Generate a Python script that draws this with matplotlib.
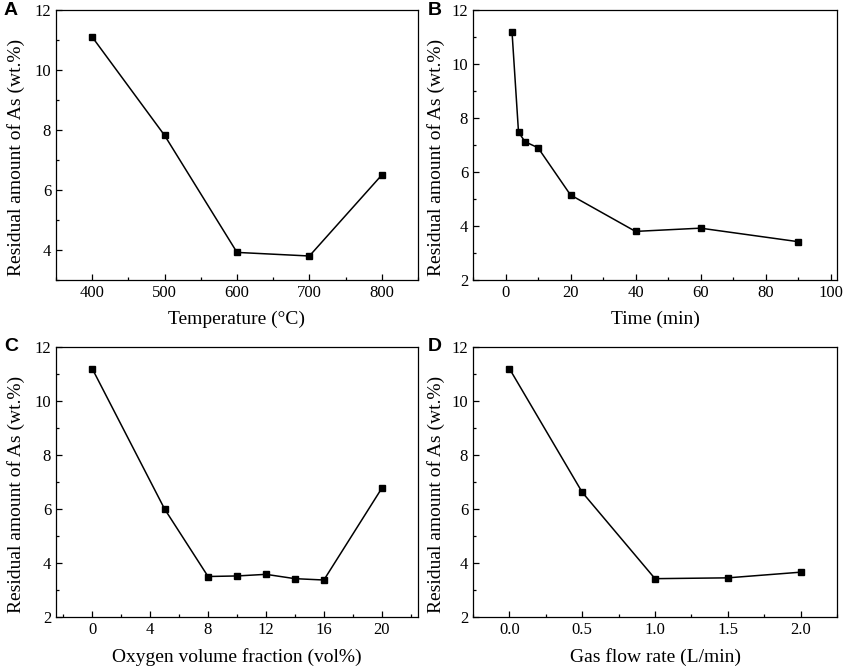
import matplotlib
matplotlib.use("Agg")
from matplotlib import pyplot as plt
from matplotlib.ticker import MultipleLocator

plt.rcParams['font.family'] = ['Liberation Serif', 'DejaVu Serif']

# panel A - temperature
temp = [400, 500, 600, 700, 800]
as_temp = [11.1, 7.82, 3.92, 3.8, 6.5]

# panel B - time
time_min = [2, 4, 6, 10, 20, 40, 60, 90]
as_time = [11.2, 7.48, 7.12, 6.9, 5.15, 3.8, 3.92, 3.42]

# panel C - oxygen volume fraction
oxygen = [0, 5, 8, 10, 12, 14, 16, 20]
as_oxygen = [11.2, 6.0, 3.5, 3.52, 3.58, 3.42, 3.37, 6.77]

# panel D - gas flow rate
flow = [0.0, 0.5, 1.0, 1.5, 2.0]
as_flow = [11.2, 6.62, 3.42, 3.45, 3.66]

ylab = 'Residual amount of As (wt.%)'

fig = plt.figure(figsize=(8.51, 6.72), dpi=100)
W, H = 851.0, 672.0

def make_ax(l, t, r, b):
    return fig.add_axes([l / W, 1 - b / H, (r - l) / W, (b - t) / H])

axA = make_ax(56, 10, 418, 280)
axB = make_ax(473, 10, 837, 280)
axC = make_ax(56, 347, 418, 617)
axD = make_ax(473, 347, 837, 617)

panels = [
    (axA, temp, as_temp, 'Temperature (°C)', (350, 850), (3, 12), 100, 50, 'A'),
    (axB, time_min, as_time, 'Time (min)', (-10, 102), (2, 12), 20, 10, 'B'),
    (axC, oxygen, as_oxygen, 'Oxygen volume fraction (vol%)', (-2.5, 22.5), (2, 12), 4, 2, 'C'),
    (axD, flow, as_flow, 'Gas flow rate (L/min)', (-0.25, 2.25), (2, 12), 0.5, 0.25, 'D'),
]

for ax, x, y, xl, xlim, ylim, xmaj, xmin, letter in panels:
    ax.plot(x, y, color='black', lw=1.1, marker='s', ms=5, mfc='black', mec='black')
    ax.set_xlim(*xlim)
    ax.set_ylim(*ylim)
    ax.xaxis.set_major_locator(MultipleLocator(xmaj))
    ax.xaxis.set_minor_locator(MultipleLocator(xmin))
    ax.yaxis.set_major_locator(MultipleLocator(2))
    ax.yaxis.set_minor_locator(MultipleLocator(1))
    ax.tick_params(which='both', direction='in', top=False, right=False, labelsize=12, width=0.9)
    ax.tick_params(which='major', length=4)
    ax.tick_params(which='minor', length=2.5)
    for s in ax.spines.values():
        s.set_linewidth(0.9)
    if letter == 'D':
        ax.xaxis.set_major_formatter(plt.FormatStrFormatter('%.1f'))
    ax.set_xlabel(xl, fontsize=14, labelpad=7)
    ax.set_ylabel(ylab, fontsize=14)
    if letter in ('A', 'C'):
        ax.yaxis.set_label_coords(-0.085, 0.455)
    else:
        ax.yaxis.set_label_coords(-0.077, 0.455)

# panel letters
letter_pos = [('A', 4, 2), ('B', 428, 2), ('C', 4, 338), ('D', 428, 338)]
for txt, px, py in letter_pos:
    fig.text(px / W, 1 - py / H, txt, fontsize=14, fontweight='bold',
             family=['Liberation Sans', 'DejaVu Sans'], va='top', ha='left')

fig.savefig('out.png', dpi=100)
